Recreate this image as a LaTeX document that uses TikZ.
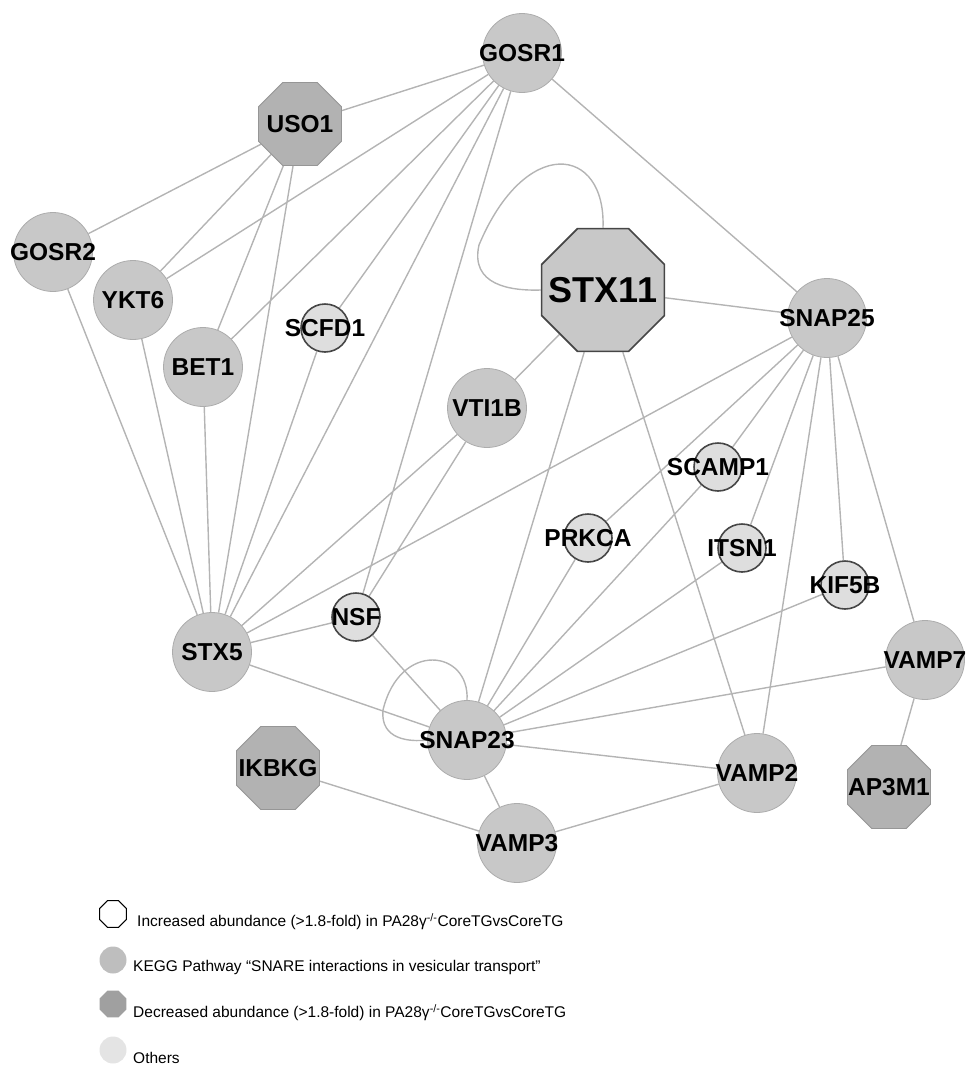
\documentclass[tikz,border=0pt]{standalone}
\usepackage{fontspec}
\setmainfont{Liberation Sans}
\usetikzlibrary{shapes.geometric,backgrounds}
\definecolor{edgegray}{RGB}{180,180,180}
\definecolor{keggfill}{RGB}{200,200,200}
\definecolor{keggline}{RGB}{172,172,172}
\definecolor{upfill}{RGB}{222,222,222}
\definecolor{upline}{RGB}{70,70,70}
\definecolor{downfill}{RGB}{178,178,178}
\definecolor{downline}{RGB}{150,150,150}
\definecolor{otherfill}{RGB}{228,228,228}
\newcommand{\protfont}{\bfseries\fontsize{24.5}{24.5}\selectfont}
\newcommand{\legfont}{\fontsize{15.5}{16}\selectfont}
\newcommand{\nlab}[1]{\makebox[0pt]{#1}}
\begin{document}
\begin{tikzpicture}[x=1pt,y=-1pt,
 kegg/.style={circle,draw=keggline,fill=keggfill,line width=.8pt,
  minimum size=79pt,inner sep=0pt,font=\protfont},
 upreg/.style={circle,draw=upline,fill=upfill,line width=1.6pt,
  minimum size=48pt,inner sep=0pt,font=\protfont},
 downreg/.style={regular polygon,regular polygon sides=8,draw=downline,
  fill=downfill,line width=.8pt,minimum size=90pt,inner sep=0pt,font=\protfont},
 edge/.style={draw=edgegray,line width=1.4pt}]
 \useasboundingbox (0,0) rectangle (966,1071);
 \path
 (522,53) node[kegg] (GOSR1) {\nlab{GOSR1}} % <<< top row
 (300,124) node[downreg] (USO1) {\nlab{USO1}}
 (53,252) node[kegg] (GOSR2) {\nlab{GOSR2}}
 (133,300) node[kegg] (YKT6) {\nlab{YKT6}}
 (203,367) node[kegg] (BET1) {\nlab{BET1}}
 (325,328) node[upreg] (SCFD1) {\nlab{SCFD1}}
 (603,290) node[regular polygon,regular polygon sides=8,draw=upline,
  fill=keggfill,line width=1.6pt,minimum size=133pt,inner sep=0pt,
  font=\bfseries\fontsize{36}{36}\selectfont] (STX11) {\nlab{STX11}}
 (827,318) node[kegg] (SNAP25) {\nlab{SNAP25}}
 (487,408) node[kegg] (VTI1B) {\nlab{VTI1B}} % <<< middle
 (718,467) node[upreg] (SCAMP1) {\nlab{SCAMP1}}
 (588,538) node[upreg] (PRKCA) {\nlab{PRKCA}}
 (742,548) node[upreg] (ITSN1) {\nlab{ITSN1}}
 (845,585) node[upreg] (KIF5B) {\nlab{KIF5B}}
 (356,617) node[upreg] (NSF) {\nlab{NSF}}
 (212,652) node[kegg] (STX5) {\nlab{STX5}}
 (925,660) node[kegg] (VAMP7) {\nlab{VAMP7}}
 (467,740) node[kegg] (SNAP23) {\nlab{SNAP23}} % <<< bottom
 (278,768) node[downreg] (IKBKG) {\nlab{IKBKG}}
 (757,773) node[kegg] (VAMP2) {\nlab{VAMP2}}
 (889,787) node[downreg] (AP3M1) {\nlab{AP3M1}}
 (517,843) node[kegg] (VAMP3) {\nlab{VAMP3}};
 \begin{scope}[on background layer]
 \draw[edge]
 (GOSR1)--(USO1) (GOSR1)--(YKT6) (GOSR1)--(BET1) (GOSR1)--(SCFD1)
 (GOSR1)--(STX5) (GOSR1)--(NSF) (GOSR1)--(SNAP25)
 (USO1)--(GOSR2) (USO1)--(YKT6) (USO1)--(BET1) (USO1)--(STX5)
 (GOSR2)--(STX5) (YKT6)--(STX5) (BET1)--(STX5) (SCFD1)--(STX5)
 (STX5)--(VTI1B) (STX5)--(SNAP25) (STX5)--(NSF) (STX5)--(SNAP23)
 (STX11)--(SNAP25) (STX11)--(VTI1B) (STX11)--(SNAP23) (STX11)--(VAMP2)
 (VTI1B)--(NSF)
 (SNAP25)--(PRKCA) (SNAP25)--(SCAMP1) (SNAP25)--(ITSN1) (SNAP25)--(KIF5B)
 (SNAP25)--(VAMP2) (SNAP25)--(VAMP7)
 (SNAP23)--(NSF) (SNAP23)--(PRKCA) (SNAP23)--(SCAMP1) (SNAP23)--(ITSN1)
 (SNAP23)--(KIF5B) (SNAP23)--(VAMP7) (SNAP23)--(VAMP2) (SNAP23)--(VAMP3)
 (VAMP7)--(AP3M1) (VAMP3)--(IKBKG) (VAMP3)--(VAMP2);
 % self loops
 \draw[edge] (STX11.north) .. controls (606,145) and (525,135) .. (479,245)
  .. controls (470,285) and (510,291) .. (STX11.west);
 \draw[edge] (SNAP23.north) .. controls (470,650) and (400,640) .. (383,710)
  .. controls (380,740) and (410,742) .. (SNAP23.west);
 \end{scope}
 % legend
 \path
 (113,914) node[regular polygon,regular polygon sides=8,draw=black,fill=white,
  line width=1.1pt,minimum size=29pt,inner sep=0pt] (legUp) {}
 (113,960) node[circle,fill=keggfill!95!black,minimum size=27pt,inner sep=0pt] (legKegg) {}
 (113,1004) node[regular polygon,regular polygon sides=8,fill=downfill!90!black,
  minimum size=29pt,inner sep=0pt] (legDown) {}
 (113,1050) node[circle,fill=otherfill,minimum size=27pt,inner sep=0pt] (legOther) {};
 \path[every node/.style={anchor=west,font=\legfont,inner sep=0pt}]
 (137,922) node (txtUp) {Increased abundance (>1.8-fold) in PA28γ\textsuperscript{-/-}CoreTGvsCoreTG}
 (133,967) node (txtKegg) {KEGG Pathway “SNARE interactions in vesicular transport”}
 (133,1013) node (txtDown) {Decreased abundance (>1.8-fold) in PA28γ\textsuperscript{-/-}CoreTGvsCoreTG}
 (133,1058) node (txtOther) {Others};
\end{tikzpicture}
\end{document}
